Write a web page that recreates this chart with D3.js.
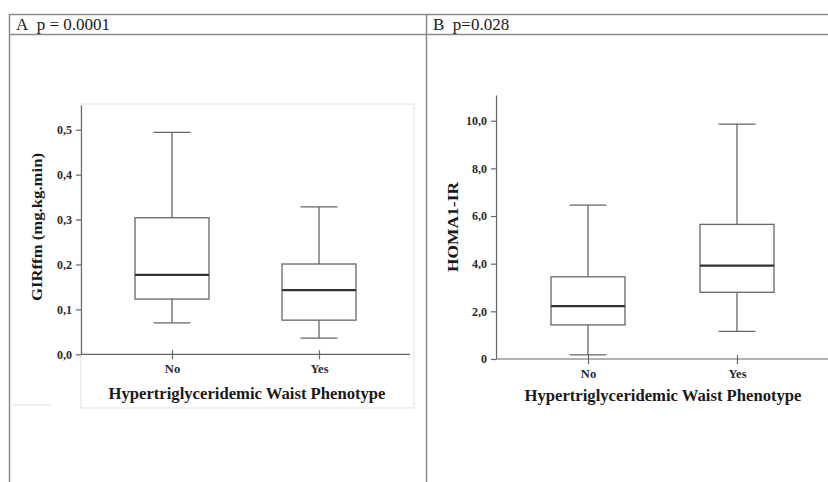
<!DOCTYPE html>
<html><head><meta charset="utf-8">
<script src="https://cdn.jsdelivr.net/npm/d3@7"></script>
<style>body{margin:0;background:#fff}svg{display:block}svg text{font-family:"Liberation Serif","Times New Roman",serif !important}</style>
</head><body><svg id="c" width="828" height="482"></svg>
<script>
const categories = ["No", "Yes"];
// [lowerWhisker, Q1, median, Q3, upperWhisker]
const girValues = [[0.070, 0.123, 0.177, 0.304, 0.494], [0.036, 0.076, 0.143, 0.201, 0.328]];
const homaValues = [[0.17, 1.43, 2.22, 3.45, 6.46], [1.16, 2.80, 3.92, 5.65, 9.86]];
const girTicks = [0, 0.1, 0.2, 0.3, 0.4, 0.5];
const girTickLabels = ["0,0", "0,1", "0,2", "0,3", "0,4", "0,5"];
const homaTicks = [0, 2, 4, 6, 8, 10];
const homaTickLabels = ["0", "2,0", "4,0", "6,0", "8,0", "10,0"];
const panelTitles = ["A\u00A0\u00A0p = 0.0001", "B\u00A0\u00A0p=0.028"];
const xTitle = "Hypertriglyceridemic Waist Phenotype";
const yTitles = ["GIRffm (mg.kg.min)", "HOMA1-IR"];

const FONT = "Liberation Serif";
const svg = d3.select("#c").attr("font-family", FONT);
const frame = "#8a8a8a";
// frame lines
svg.append("line").attr("x1", 9).attr("x2", 828).attr("y1", 14.5).attr("y2", 14.5).attr("stroke", frame).attr("stroke-width", 1.5);
svg.append("line").attr("x1", 9).attr("x2", 828).attr("y1", 34.5).attr("y2", 34.5).attr("stroke", frame).attr("stroke-width", 1.5);
svg.append("line").attr("x1", 9.5).attr("x2", 9.5).attr("y1", 14).attr("y2", 482).attr("stroke", frame).attr("stroke-width", 1.5);
svg.append("line").attr("x1", 426.5).attr("x2", 426.5).attr("y1", 14).attr("y2", 482).attr("stroke", frame).attr("stroke-width", 1.5);
svg.append("text").attr("x", 16).attr("y", 30).attr("font-family", FONT).attr("font-size", 17).attr("fill", "#1a1a1a").text(panelTitles[0]);
svg.append("text").attr("x", 433).attr("y", 30).attr("font-family", FONT).attr("font-size", 17).attr("fill", "#1a1a1a").text(panelTitles[1]);

// panel A light frame
svg.append("rect").attr("x", 81).attr("y", 104).attr("width", 333).attr("height", 304)
  .attr("fill", "none").attr("stroke", "#e6e6e6").attr("stroke-width", 1.2);
svg.append("line").attr("x1", 12).attr("x2", 52).attr("y1", 405).attr("y2", 405).attr("stroke", "#e0e0e0").attr("stroke-width", 1.2);

function panel(cfg) {
  const g = svg.append("g");
  const y = d3.scaleLinear().domain(cfg.domain).range([cfg.y0, cfg.yTop]);
  const x = d3.scalePoint().domain(categories).range(cfg.xCats);
  const axisColor = "#666";
  // y axis
  const ya = g.append("g").attr("transform", `translate(${cfg.xAxis},0)`)
    .call(d3.axisLeft(y).tickValues(cfg.ticks).tickFormat((d, i) => cfg.tickLabels[i]).tickSize(5).tickSizeOuter(0));
  ya.attr("font-family", FONT);
  ya.select(".domain").attr("stroke", axisColor).attr("stroke-width", 1.2);
  ya.selectAll(".tick line").attr("stroke", axisColor).attr("stroke-width", 1.2);
  ya.selectAll(".tick text").attr("font-family", FONT).attr("font-weight", "bold").attr("font-size", 12).attr("fill", "#2a2a2a").attr("dx", -1);
  // x axis
  const xa = g.append("g").attr("transform", `translate(0,${cfg.y0})`)
    .call(d3.axisBottom(x).tickSize(5).tickSizeOuter(0));
  xa.attr("font-family", FONT);
  xa.select(".domain").attr("d", `M${cfg.xAxis},0H${cfg.xEnd}`).attr("stroke", axisColor).attr("stroke-width", 1.2);
  xa.selectAll(".tick line").attr("stroke", axisColor).attr("stroke-width", 1.2).attr("y1", -4);
  xa.selectAll(".tick text").attr("font-family", FONT).attr("font-weight", "bold").attr("font-size", 12.5).attr("fill", "#2a2a2a").attr("dy", "0.85em");
  const bw = 74;
  const bx = g.selectAll(".bx").data(cfg.values).join("g");
  const stroke = "#666";
  bx.append("line").attr("x1", (d, i) => x(categories[i])).attr("x2", (d, i) => x(categories[i]))
    .attr("y1", d => y(d[0])).attr("y2", d => y(d[1])).attr("stroke", stroke).attr("stroke-width", 1.3);
  bx.append("line").attr("x1", (d, i) => x(categories[i])).attr("x2", (d, i) => x(categories[i]))
    .attr("y1", d => y(d[3])).attr("y2", d => y(d[4])).attr("stroke", stroke).attr("stroke-width", 1.3);
  bx.append("line").attr("x1", (d, i) => x(categories[i]) - bw / 4).attr("x2", (d, i) => x(categories[i]) + bw / 4)
    .attr("y1", d => y(d[0])).attr("y2", d => y(d[0])).attr("stroke", stroke).attr("stroke-width", 1.3);
  bx.append("line").attr("x1", (d, i) => x(categories[i]) - bw / 4).attr("x2", (d, i) => x(categories[i]) + bw / 4)
    .attr("y1", d => y(d[4])).attr("y2", d => y(d[4])).attr("stroke", stroke).attr("stroke-width", 1.3);
  bx.append("rect").attr("x", (d, i) => x(categories[i]) - bw / 2).attr("width", bw)
    .attr("y", d => y(d[3])).attr("height", d => y(d[1]) - y(d[3]))
    .attr("fill", "#fff").attr("stroke", stroke).attr("stroke-width", 1.3);
  bx.append("line").attr("x1", (d, i) => x(categories[i]) - bw / 2).attr("x2", (d, i) => x(categories[i]) + bw / 2)
    .attr("y1", d => y(d[2])).attr("y2", d => y(d[2])).attr("stroke", "#333").attr("stroke-width", 2.2);
  // titles
  g.append("text").attr("x", cfg.xTitleX).attr("y", cfg.xTitleY).attr("text-anchor", "middle")
    .attr("font-family", FONT).attr("font-weight", "bold").attr("font-size", 16.5).attr("fill", "#1a1a1a")
    .attr("textLength", 277).attr("lengthAdjust", "spacingAndGlyphs").text(xTitle);
  g.append("text").attr("transform", `translate(${cfg.yTitleX},${cfg.yTitleY}) rotate(-90)`).attr("text-anchor", "middle")
    .attr("font-family", FONT).attr("font-weight", "bold").attr("font-size", 14.5).attr("fill", "#1a1a1a")
    .attr("textLength", cfg.yTitleLen).attr("lengthAdjust", "spacingAndGlyphs").text(cfg.yTitle);
}

panel({ domain: [0, 0.555], y0: 354.3, yTop: 105, xAxis: 81, xEnd: 410, xCats: [172, 319],
  ticks: girTicks, tickLabels: girTickLabels, values: girValues,
  xTitleX: 247, xTitleY: 398.5, yTitleX: 42, yTitleY: 227, yTitle: yTitles[0], yTitleLen: 148 });
panel({ domain: [0, 11.08], y0: 359, yTop: 95, xAxis: 496, xEnd: 828, xCats: [588, 737],
  ticks: homaTicks, tickLabels: homaTickLabels, values: homaValues,
  xTitleX: 663, xTitleY: 401, yTitleX: 458, yTitleY: 227, yTitle: yTitles[1], yTitleLen: 90 });
</script></body></html>
